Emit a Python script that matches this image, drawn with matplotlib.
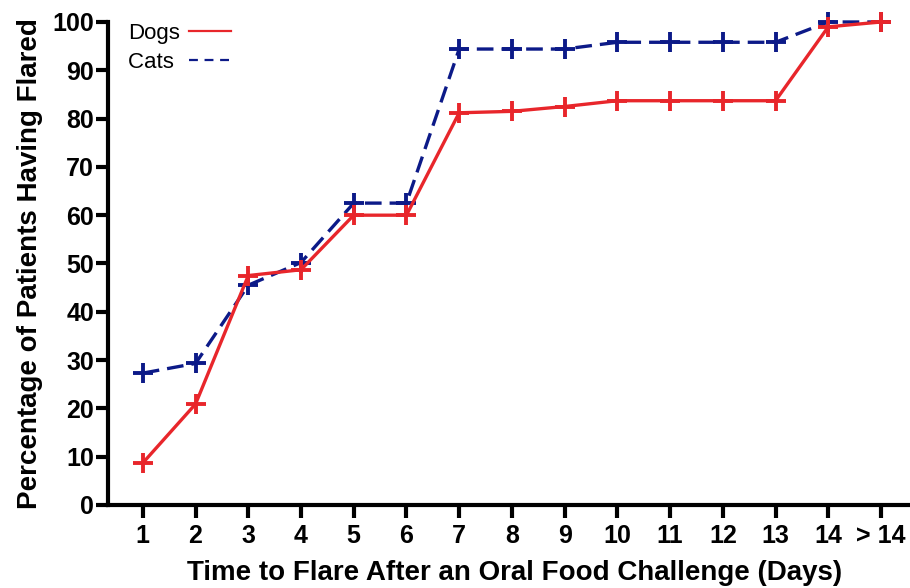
import matplotlib.pyplot as plt
import numpy as np
from matplotlib.lines import Line2D

plt.rcParams['font.family'] = ['Liberation Sans', 'DejaVu Sans']

# 数据：从图中读取
days = ['1', '2', '3', '4', '5', '6', '7', '8', '9', '10', '11', '12', '13', '14', '> 14']
dogs = [8.7, 20.9, 47.5, 48.7, 60.0, 60.0, 81.2, 81.5, 82.5, 83.7, 83.7, 83.7, 83.7, 99.0, 100.0]
cats = [27.3, 29.3, 45.5, 50.2, 62.5, 62.5, 94.4, 94.4, 94.4, 95.8, 95.8, 95.8, 95.8, 100.0, 100.0]

red = '#e8262b'
navy = '#0c1a88'

fig = plt.figure(figsize=(9.1, 5.88), dpi=100)
ax = fig.add_axes([0.1187, 0.1412, 0.8813, 0.8214])

x = np.arange(1, len(days) + 1)
ax.plot(x, dogs, color=red, lw=2.4, marker='+', ms=14, mew=2.8, label='Dogs', clip_on=False, zorder=3)
ax.plot(x, cats, color=navy, lw=2.4, ls=(0, (5, 2.4)), marker='+', ms=14, mew=2.8, label='Cats',
        clip_on=False, zorder=2)

ax.set_xlim(0.34, 15.55)
ax.set_ylim(0, 100)
ax.set_xticks(x)
ax.set_xticklabels(days)
ax.set_yticks(np.arange(0, 101, 10))

for s in ['top', 'right']:
    ax.spines[s].set_visible(False)
for s in ['left', 'bottom']:
    ax.spines[s].set_linewidth(3)
ax.tick_params(width=3, length=9, labelsize=18)
ax.tick_params(axis='x', pad=5)
ax.tick_params(axis='y', pad=1)
for lab in ax.get_xticklabels() + ax.get_yticklabels():
    lab.set_fontweight('bold')

ax.set_xlabel('Time to Flare After an Oral Food Challenge (Days)', fontsize=20, fontweight='bold', labelpad=8)
ax.xaxis.label.set_x(0.507)
ax.set_ylabel('Percentage of Patients Having Flared', fontsize=20, fontweight='bold', labelpad=7)

# 图例：文字在左，线在右
handles = [Line2D([], [], color=red, lw=1.6),
           Line2D([], [], color=navy, lw=1.6, ls=(0, (4, 3)))]
ax.legend(handles, ['Dogs', 'Cats '], loc='upper left', bbox_to_anchor=(0.119, 0.995),
          bbox_transform=fig.transFigure, frameon=False, markerfirst=False,
          fontsize=16, handlelength=1.9, handletextpad=0.4, labelspacing=0.35)

fig.savefig('out.png', dpi=100)
